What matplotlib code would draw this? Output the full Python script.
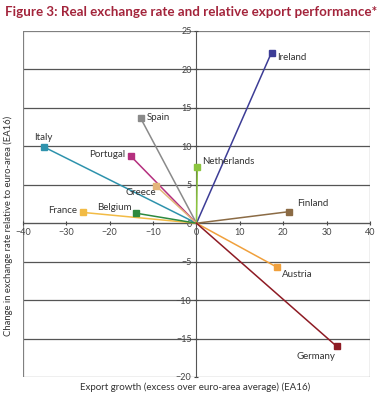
import matplotlib.pyplot as plt

# data
countries = ['Ireland', 'Spain', 'Italy', 'Portugal', 'Greece', 'Netherlands',
             'Finland', 'France', 'Belgium', 'Austria', 'Germany']
export_growth = [17.3, -12.9, -35.1, -15.1, -9.4, 0.2, 21.3, -26.1, -13.9, 18.5, 32.3]
exchange_rate = [22.2, 13.7, 9.9, 8.7, 4.9, 7.3, 1.5, 1.4, 1.3, -5.7, -16.0]

colors = ['#3d3d96', '#8a8a8a', '#2f93ad', '#b5307f', '#e3b57a', '#8cc540',
          '#8b6b45', '#f2bb45', '#2e8a3f', '#f0a03c', '#8e1b24']
# label offsets in pixels and alignment
offsets = [(6, -5, 'left'), (6, 0, 'left'), (-1, 10, 'center'), (-6, 2, 'right'),
           (-15, -7, 'center'), (5, 6, 'left'), (8, 8, 'left'), (-6, 2, 'right'),
           (-22, 6, 'center'), (5, -7, 'left'), (-21, -10, 'center')]

plt.rcParams['font.family'] = ['Lato', 'DejaVu Sans']

fig = plt.figure(figsize=(3.83, 4.0), dpi=100, facecolor='white')
ax = fig.add_axes([0.060, 0.0575, 0.906, 0.865])
ax.set_xlim(-40, 40)
ax.set_ylim(-20, 25)

# grid lines
for y in range(-15, 25, 5):
    ax.axhline(y, color='#555555', lw=0.9, zorder=1)
ax.axhline(25, color='#808080', lw=0.9, zorder=1)
ax.axhline(-20, color='#808080', lw=0.9, zorder=1)
ax.axvline(-40, color='#808080', lw=0.9, zorder=1)
ax.axvline(40, color='#808080', lw=0.9, zorder=1)

for s in ['top', 'right']:
    ax.spines[s].set_visible(False)
ax.spines['left'].set_position(('data', 0))
ax.spines['bottom'].set_position(('data', 0))
ax.spines['left'].set_color('#555555')
ax.spines['bottom'].set_color('#555555')

ax.set_xticks(range(-40, 41, 10))
ax.set_yticks(range(-20, 26, 5))
ax.tick_params(labelsize=6.5, colors='#444444', length=3, width=0.8, direction='inout', pad=2)

for i, c in enumerate(countries):
    ax.plot([0, export_growth[i]], [0, exchange_rate[i]], color=colors[i], lw=1.1, zorder=3)
    ax.plot(export_growth[i], exchange_rate[i], 's', color=colors[i], ms=4, zorder=4)
    dx, dy, ha = offsets[i]
    ax.annotate(c, (export_growth[i], exchange_rate[i]), xytext=(dx, dy),
                textcoords='offset pixels', ha=ha, va='center', fontsize=7,
                color='#333333', zorder=5)

fig.text(0.013, 0.969, 'Figure 3: Real exchange rate and relative export performance*',
         fontsize=9.6, fontweight='bold', color='#a3243b', ha='left', va='center')
fig.text(0.51, 0.032, 'Export growth (excess over euro-area average) (EA16)',
         fontsize=7, color='#333333', ha='center', va='center')
fig.text(0.022, 0.435, 'Change in exchange rate relative to euro-area (EA16)',
         fontsize=6.8, color='#333333', ha='center', va='center', rotation=90)

fig.savefig('out.png', dpi=100)
